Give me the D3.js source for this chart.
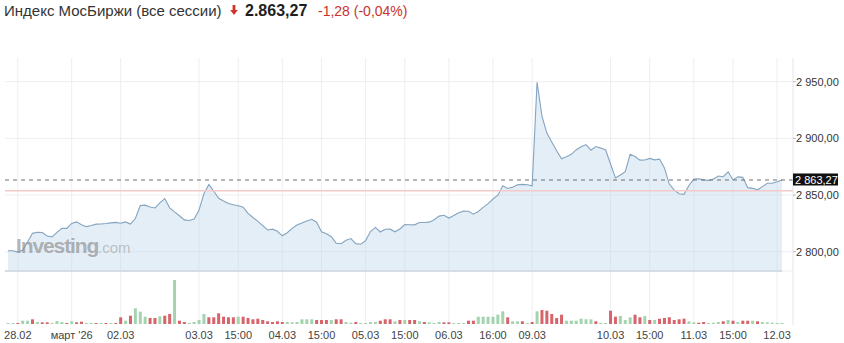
<!DOCTYPE html>
<html><head><meta charset="utf-8">
<script src="https://cdn.jsdelivr.net/npm/d3@7"></script>
<style>
body{margin:0;background:#fff;}
svg{display:block;font-family:"Liberation Sans",Arial,sans-serif;}
</style>
</head><body>
<svg id="chart" width="844" height="343"></svg>
<script>
// ---- data (hourly closes, MOEX index, all sessions) ----
const closes = [
  2800.8,2800.8,2799.6,2801.5,2808.6,2816.2,2817.2,2816.9,2813.9,2813.1,
  2817.1,2820.6,2820.6,2825.0,2826.3,2823.7,2822.1,2823.1,2824.3,2824.5,
  2824.9,2825.4,2825.9,2825.1,2826.3,2824.4,2829.3,2840.8,2841.1,2839.4,
  2838.6,2843.1,2846.9,2838.7,2835.1,2831.7,2828.1,2827.5,2828.9,2836.8,
  2851.2,2859.2,2853.5,2847.1,2844.7,2842.6,2841.4,2840.6,2839.2,2833.8,
  2830.2,2826.8,2823.0,2819.2,2819.9,2818.0,2814.0,2816.7,2820.6,2823.6,
  2825.3,2827.1,2828.6,2826.0,2817.6,2815.8,2813.2,2807.5,2807.0,2810.1,
  2811.6,2807.1,2806.6,2809.8,2817.8,2821.4,2817.4,2819.8,2819.9,2817.6,
  2820.0,2823.9,2823.8,2823.7,2825.7,2825.7,2826.1,2828.2,2831.4,2832.1,
  2829.7,2831.9,2834.4,2835.8,2835.7,2833.1,2835.5,2839.1,2842.4,2846.5,
  2849.8,2858.1,2855.8,2856.8,2859.0,2859.4,2859.1,2858.2,2949.5,2919.7,
  2904.7,2896.8,2889.1,2882.0,2883.8,2885.9,2890.0,2892.6,2894.5,2889.6,
  2892.8,2891.4,2889.7,2877.4,2865.0,2867.7,2870.6,2885.9,2884.0,2880.8,
  2880.9,2882.3,2881.0,2881.7,2873.9,2859.7,2854.4,2851.2,2850.6,2858.4,
  2864.1,2864.4,2863.4,2862.9,2864.2,2866.8,2866.2,2870.5,2863.4,2866.0,
  2865.6,2856.5,2855.9,2854.6,2857.4,2860.4,2860.4,2861.7,2863.27
];
const volumes = [
  5,5,5,33,33,47,20,17,17,7,
  30,20,7,27,17,23,7,5,7,5,
  7,5,7,67,33,83,157,123,73,60,
  60,77,83,100,440,33,20,7,20,40,
  100,67,67,107,73,67,67,73,73,60,
  47,53,40,27,20,27,20,20,17,20,
  47,47,47,40,40,40,40,47,47,20,
  13,20,7,7,20,20,33,47,47,27,
  40,40,40,40,27,20,17,7,20,17,
  17,7,7,7,33,33,73,73,73,73,
  93,127,67,27,27,27,7,20,127,140,
  133,100,60,93,33,33,33,53,47,47,
  27,7,7,133,73,80,40,67,93,67,
  80,40,40,53,60,67,40,47,53,27,
  17,13,20,7,13,20,27,40,33,20,
  33,33,33,27,20,17,13,7,7
];
const volumeUp = [
  1,1,0,1,1,0,1,0,0,1,
  1,1,0,1,0,0,1,1,0,1,
  0,1,0,0,1,0,1,1,1,0,
  0,1,0,0,1,0,0,1,1,1,
  1,0,0,0,0,0,0,1,0,0,
  0,0,0,0,0,0,0,1,1,1,
  1,1,1,0,0,0,1,0,0,1,
  1,0,1,1,1,1,0,0,0,1,
  0,1,0,0,1,0,1,1,1,0,
  0,1,1,1,0,0,1,1,1,1,
  1,1,0,1,1,0,1,0,1,0,
  0,0,0,0,1,1,1,1,1,1,
  0,1,1,0,0,1,1,1,0,0,
  1,0,1,0,0,0,0,0,0,1,
  1,0,0,1,1,1,0,1,0,1,
  0,0,1,0,1,1,1,1,1
];
const tickIndex  = [2,13,23,39,47,56,64,73,81,90,99,107,123,131,140,148,157];
const tickLabels = ["28.02","март '26","02.03","03.03","15:00","04.03","15:00","05.03","15:00","06.03","16:00","09.03","10.03","15:00","11.03","15:00","12.03"];
const priceTicks = [2800,2850,2900,2950];
const lastPrice = 2863.27;
const refPrice = 2853.8;
const titleText = "Индекс МосБиржи (все сессии)";
const priceText = "2.863,27";
const changeText = "-1,28 (-0,04%)";

// ---- chart ----
const svg = d3.select("#chart");
const fmt = v => d3.format(",.2f")(v).replace(/,/g," ").replace(".",",");

const x = d3.scaleLinear().domain([0, closes.length-1]).range([8, 782]);
const y = d3.scaleLinear().domain([2800, 2950]).range([251.7, 81.7]);
const yv = d3.scaleLinear().domain([0, d3.max(volumes)]).range([324, 280]);
const plotTop = 58, mainBottom = 270, volBottom = 325, axisX = 793;

// gridlines
const grid = svg.append("g");
grid.selectAll(".vg").data(tickIndex).join("line")
  .attr("x1", d=>x(d)).attr("x2", d=>x(d))
  .attr("y1", plotTop).attr("y2", volBottom)
  .attr("stroke", "#eceef1").attr("stroke-width", 1);
grid.selectAll(".hg").data(priceTicks).join("line")
  .attr("x1", 5).attr("x2", axisX)
  .attr("y1", d=>y(d)).attr("y2", d=>y(d))
  .attr("stroke", "#eceef1").attr("stroke-width", 1);

// area + line
const area = d3.area().x((d,i)=>x(i)).y0(mainBottom).y1(d=>y(d));
const line = d3.line().x((d,i)=>x(i)).y(d=>y(d));
svg.append("path").datum(closes).attr("d", area)
  .attr("fill", "rgba(190,214,236,0.42)");
svg.append("path").datum(closes).attr("d", line)
  .attr("fill", "none").attr("stroke", "#84a4bf").attr("stroke-width", 1.1);

// reference lines
svg.append("line").attr("x1", 5).attr("x2", axisX)
  .attr("y1", y(refPrice)).attr("y2", y(refPrice))
  .attr("stroke", "#f3c9c9").attr("stroke-width", 1.5);
svg.append("line").attr("x1", 5).attr("x2", axisX)
  .attr("y1", y(lastPrice)).attr("y2", y(lastPrice))
  .attr("stroke", "#6f6f6f").attr("stroke-width", 1).attr("stroke-dasharray", "4,4");

// panel separator
svg.append("line").attr("x1", 5).attr("x2", 782).attr("y1", mainBottom+1).attr("y2", mainBottom+1)
  .attr("stroke", "#d6dce3").attr("stroke-width", 2);
svg.append("line").attr("x1", 782).attr("x2", axisX).attr("y1", mainBottom+1).attr("y2", mainBottom+1)
  .attr("stroke", "#eceef1").attr("stroke-width", 1);

// volume bars
svg.append("g").selectAll("rect").data(volumes).join("rect")
  .attr("x", (d,i)=>x(i)-1.5).attr("width", 3)
  .attr("y", d=>Math.min(yv(d), yv(0)-1))
  .attr("height", d=>Math.max(1, yv(0)-yv(d)))
  .attr("fill", (d,i)=>volumeUp[i] ? "#a3d4af" : "#d6646a");

// right axis
svg.append("line").attr("x1", axisX).attr("x2", axisX).attr("y1", plotTop).attr("y2", volBottom)
  .attr("stroke", "#e2e5e8");
const ya = svg.append("g");
ya.selectAll("line").data(priceTicks).join("line")
  .attr("x1", axisX).attr("x2", axisX+3).attr("y1", d=>y(d)).attr("y2", d=>y(d))
  .attr("stroke", "#bbb");
ya.selectAll("text").data(priceTicks).join("text")
  .attr("x", axisX+3).attr("y", d=>y(d)).attr("dy", "0.35em")
  .attr("font-size", 11).attr("fill", "#333").text(d=>fmt(d));

// last price label
svg.append("rect").attr("x", axisX).attr("y", y(lastPrice)-6.5).attr("width", 45).attr("height", 12)
  .attr("fill", "#111");
svg.append("text").attr("x", axisX+2).attr("y", y(lastPrice)).attr("dy", "0.35em")
  .attr("font-size", 11).attr("fill", "#fff").text(fmt(lastPrice));

// x axis labels
svg.append("g").selectAll("text").data(tickIndex).join("text")
  .attr("x", d=>x(d)).attr("y", 339).attr("text-anchor", "middle")
  .attr("font-size", 11).attr("fill", "#444")
  .text((d,i)=>tickLabels[i]);

// watermark
svg.append("text").attr("x", 16).attr("y", 253).attr("font-size", 21).attr("font-weight", "bold")
  .attr("letter-spacing", -1.1).attr("fill", "#8a8a8a").attr("fill-opacity", 0.65).text("Investing");
svg.append("text").attr("x", 98).attr("y", 253).attr("font-size", 15)
  .attr("fill", "#9e9e9e").attr("fill-opacity", 0.6).text(".com");

// title
svg.append("text").attr("x", 4).attr("y", 16).attr("font-size", 15).attr("fill", "#333").text(titleText);
svg.append("path").attr("d", "M232.6,5 h2.8 v5 h2.4 l-3.8,5 l-3.8,-5 h2.4 z").attr("fill", "#d0342c");
svg.append("text").attr("x", 245).attr("y", 16).attr("font-size", 16).attr("font-weight", "bold")
  .attr("fill", "#1e1e1e").text(priceText);
svg.append("text").attr("x", 318).attr("y", 16).attr("font-size", 14).attr("fill", "#c8322b").text(changeText);
</script>
</body></html>
